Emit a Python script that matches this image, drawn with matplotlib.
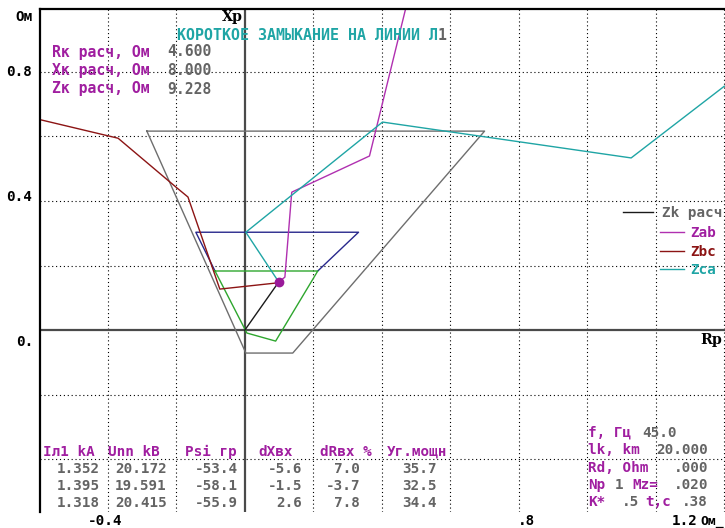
import matplotlib
matplotlib.use('Agg')
import matplotlib.pyplot as plt

W, H = 725, 528

# характеристики срабатывания, Ом (R, X)
zone3_r = [-0.286, 0.700, 0.140, 0.003, -0.286]
zone3_x = [0.616, 0.616, -0.071, -0.071, 0.616]
zone2_r = [-0.087, -0.143, 0.332, 0.213]
zone2_x = [0.183, 0.303, 0.303, 0.183]
zone1_r = [-0.087, 0.213, 0.090, 0.006, -0.087]
zone1_x = [0.183, 0.183, -0.034, -0.009, 0.183]

# годографы сопротивлений
zk_r = [0.0, 0.099]
zk_x = [0.0, 0.149]
zab_r = [0.099, 0.117, 0.137, 0.364, 0.480]
zab_x = [0.149, 0.164, 0.427, 0.539, 1.040]
zbc_r = [-0.600, -0.370, -0.198, -0.166, -0.073, 0.093]
zbc_x = [0.652, 0.594, 0.440, 0.412, 0.127, 0.146]
zca_r = [0.099, 0.003, 0.402, 1.128, 1.400]
zca_x = [0.149, 0.303, 0.644, 0.533, 0.755]

grid_r = [-0.4, -0.2, 0.2, 0.4, 0.6, 0.8, 1.0, 1.2, 1.4]
grid_x = [-0.4, -0.2, 0.2, 0.4, 0.6, 0.8]

calc_labels = ['Rк расч, Ом', 'Xк расч, Ом', 'Zк расч, Ом']
calc_values = ['4.600', '8.000', '9.228']

table_headers = ['Iл1 kA', 'Unn kB', 'Psi гр', 'dXвх', 'dRвх %', 'Уг.мощн']
table_rows = [
    ['1.352', '20.172', '-53.4', '-5.6', '7.0', '35.7'],
    ['1.395', '19.591', '-58.1', '-1.5', '-3.7', '32.5'],
    ['1.318', '20.415', '-55.9', '2.6', '7.8', '34.4'],
]

MAG = '#a01ea0'
GRY = '#646464'
TEAL = '#1fa5a5'
RED = '#8c1414'
BLUE = '#28288c'
GREEN = '#2ea62e'
ZONE = '#6e6e6e'
MONO = 'DejaVu Sans Mono'
FS = 10.3

# параметры справа: (текст, цвет, x, выравнивание)
params = [
    [('f, Гц', MAG, 588, 'left'), ('45.0', GRY, 642, 'left')],
    [('lk, km', MAG, 588, 'left'), ('20.000', GRY, 708, 'right')],
    [('Rd, Ohm', MAG, 588, 'left'), ('.000', GRY, 708, 'right')],
    [('Np', MAG, 588, 'left'), ('1', GRY, 615, 'left'), ('Mz=', MAG, 632, 'left'), ('.020', GRY, 708, 'right')],
    [('K*', MAG, 588, 'left'), ('.5', GRY, 622, 'left'), ('t,c', MAG, 645, 'left'), ('.38', GRY, 708, 'right')],
]

fig = plt.figure(figsize=(W / 100, H / 100), dpi=100)
ax = fig.add_axes([40 / W, 1 - 512 / H, (W - 40) / W, (512 - 9) / H])
ax.set_xlim(-0.598, 1.402)
ax.set_ylim(-0.563, 0.994)

ax.set_xticks(grid_r)
ax.set_yticks(grid_x)
ax.grid(True, color='k', lw=0.8, ls=(0, (1, 2.5)))
ax.tick_params(length=0, labelleft=False, labelbottom=False)
for s in ['right', 'bottom']:
    ax.spines[s].set_visible(False)
for s in ['left', 'top']:
    ax.spines[s].set_linewidth(1.6)
ax.axhline(0, color='#4a4a4a', lw=1.6)
ax.axvline(0, color='#4a4a4a', lw=1.6)

ax.plot(zone3_r, zone3_x, color=ZONE, lw=1)
ax.plot(zone2_r, zone2_x, color=BLUE, lw=1)
ax.plot(zone1_r, zone1_x, color=GREEN, lw=1)
h_zk, = ax.plot(zk_r, zk_x, color='#1a1a1a', lw=1, label='Zk расч')
h_ab, = ax.plot(zab_r, zab_x, color='#b030b0', lw=1, label='Zab')
h_bc, = ax.plot(zbc_r, zbc_x, color=RED, lw=1, label='Zbc')
h_ca, = ax.plot(zca_r, zca_x, color=TEAL, lw=1, label='Zca')
ax.plot(zk_r[-1:], zk_x[-1:], 'o', color='#9a1a9a', ms=6)

prop = dict(family=MONO, weight='bold', size=FS)
leg1 = ax.legend(handles=[h_zk], loc='upper left', bbox_to_anchor=(623 / W, 1 - 206 / H),
                 bbox_transform=fig.transFigure, frameon=False, prop=prop, handlelength=2.1,
                 handletextpad=0.6, borderpad=0, borderaxespad=0, labelcolor=[GRY])
ax.add_artist(leg1)
ax.legend(handles=[h_ab, h_bc, h_ca], loc='upper left', bbox_to_anchor=(660 / W, 1 - 226 / H),
          bbox_transform=fig.transFigure, frameon=False, prop=prop, handlelength=1.65,
          handletextpad=0.45, labelspacing=0.33, borderpad=0, borderaxespad=0,
          labelcolor=[MAG, RED, TEAL])


def put(x, y, s, color, ha='left', family=MONO, size=FS):
    fig.text(x / W, 1 - y / H, s, color=color, ha=ha, va='center',
             family=family, weight='bold', fontsize=size)


# подписи осей
put(15, 17, 'Ом', 'k')
put(6, 72, '0.8', 'k')
put(6, 197, '0.4', 'k')
put(16, 342, '0.', 'k')
put(105, 521, '-0.4', 'k', ha='center')
put(518, 521, '.8', 'k')
put(672, 521, '1.2', 'k')
put(700, 521, 'Ом_', 'k', size=9.4)
put(222, 17, 'Xp', 'k', family='DejaVu Serif')
put(700, 340, 'Rp', 'k', family='DejaVu Serif')

# заголовок
put(177, 35, 'КОРОТКОЕ ЗАМЫКАНИЕ НА ЛИНИИ Л', TEAL, size=10.8)
put(438, 35, '1', GRY, size=10.8)

# расчетные значения
for i in range(len(calc_labels)):
    put(52, 52 + 18.5 * i, calc_labels[i], MAG, size=10.6)
    put(167, 52 + 18.5 * i, calc_values[i], GRY, size=10.6)

# таблица токов и напряжений
head_x = [43, 108, 185, 258, 320, 387]
col_right = [100, 167, 238, 302, 360, 437]
for j, h in enumerate(table_headers):
    put(head_x[j], 452, h, MAG)
for i, row in enumerate(table_rows):
    for j, v in enumerate(row):
        put(col_right[j], 469 + 17 * i, v, GRY, ha='right')

for i, line in enumerate(params):
    for s, c, x, ha in line:
        put(x, 433 + 17.3 * i, s, c, ha=ha)

fig.savefig('out.png', dpi=100)
